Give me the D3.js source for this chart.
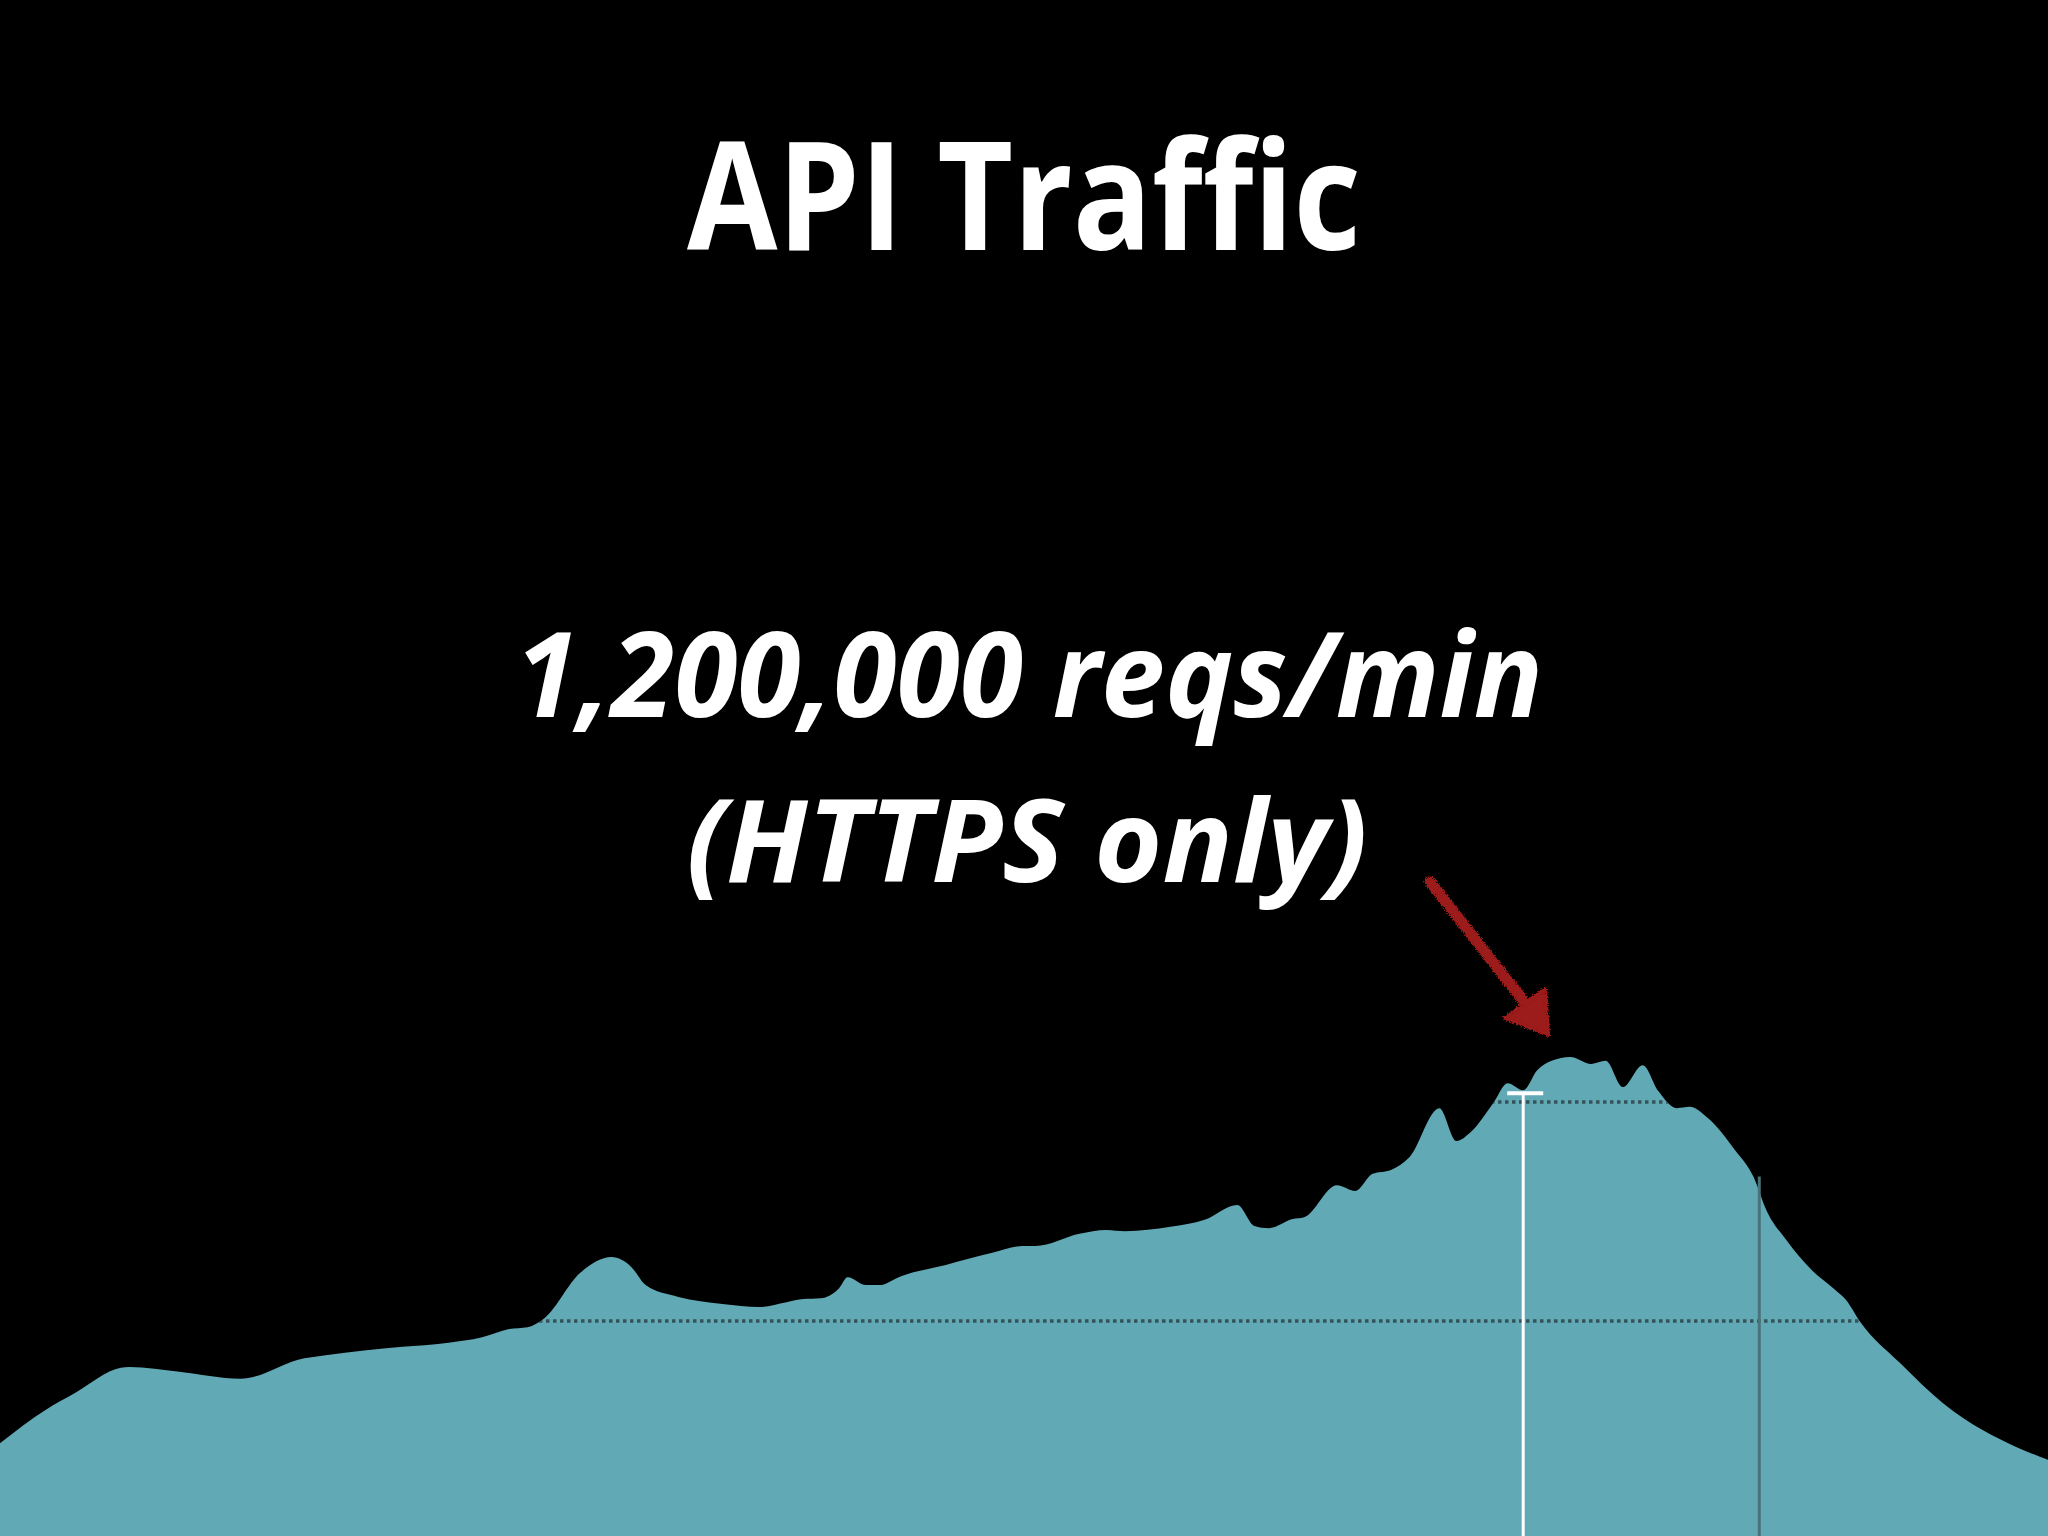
<!DOCTYPE html>
<html>
<head>
<meta charset="utf-8">
<script src="https://cdn.jsdelivr.net/npm/d3@7"></script>
<style>
  html, body { margin: 0; padding: 0; background: #000; }
  svg { display: block; }
</style>
</head>
<body>
<svg id="chart" width="2048" height="1536"></svg>
<script>
// minutes since midnight
const minutes = [
  0, 32, 53, 85, 91, 126, 169, 214, 229, 283, 314, 339, 358, 371, 383, 408, 430, 444, 454, 477,
  508, 534, 553, 565, 577, 590, 596, 609, 618, 634, 665, 697, 719, 728, 759, 778, 791, 823, 847, 870,
  882, 892, 909, 917, 940, 953, 965, 978, 991, 1012, 1024, 1034, 1050, 1060, 1071, 1081, 1091, 1104, 1119, 1129,
  1141, 1155, 1166, 1179, 1188, 1201, 1220, 1233, 1242, 1256, 1274, 1289, 1298, 1308, 1336, 1366, 1394, 1418, 1440
];
// requests per minute
const reqsPerMin = [
  221000, 297000, 336000, 393000, 395000, 384000, 368000, 415000, 422000, 441000, 450000, 463000, 482000, 486000, 507000, 610000, 646000, 623000, 582000, 555000,
  539000, 532000, 543000, 550000, 552000, 575000, 600000, 582000, 582000, 603000, 628000, 655000, 671000, 671000, 699000, 708000, 705000, 715000, 731000, 765000,
  717000, 712000, 733000, 737000, 810000, 797000, 836000, 845000, 874000, 986000, 911000, 931000, 998000, 1043000, 1027000, 1073000, 1094000, 1103000, 1087000, 1094000,
  1034000, 1084000, 1025000, 986000, 989000, 963000, 890000, 829000, 753000, 685000, 616000, 575000, 548000, 498000, 404000, 313000, 251000, 212000, 183000
];
const gridValues = [500000, 1000000];
const markerMinute = 1071, markerValue = 1020000;   // white "now" marker
const cutoffMinute = 1237, cutoffValue = 830000;    // grey divider

const titleText = "API Traffic";
const subLines = ["1,200,000 reqs/min", "(HTTPS only)"];

const W = 2048, H = 1536;
const svg = d3.select("#chart");
const data = minutes.map((m, i) => ({ m, v: reqsPerMin[i] }));

const x = d3.scaleLinear().domain([0, 1440]).range([0, W]);
const y = d3.scaleLinear().domain([0, 1000000]).range([1540, 1102]);

const area = d3.area()
  .x(d => x(d.m))
  .y0(H)
  .y1(d => y(d.v))
  .curve(d3.curveMonotoneX);

const defs = svg.append("defs");
defs.append("clipPath").attr("id", "areaClip")
  .append("path").attr("d", area(data));

// rough marker look for the arrow
const rough = defs.append("filter").attr("id", "rough")
  .attr("x", "-20%").attr("y", "-20%").attr("width", "140%").attr("height", "140%");
rough.append("feTurbulence").attr("type", "fractalNoise").attr("baseFrequency", 0.9)
  .attr("numOctaves", 2).attr("seed", 3).attr("result", "noise");
rough.append("feDisplacementMap").attr("in", "SourceGraphic").attr("in2", "noise")
  .attr("scale", 6).attr("xChannelSelector", "R").attr("yChannelSelector", "G");

svg.append("rect").attr("width", W).attr("height", H).attr("fill", "#000");

svg.append("path")
  .attr("d", area(data))
  .attr("fill", "#62a9b6");

// dotted grid lines, only visible inside the area
svg.append("g").attr("clip-path", "url(#areaClip)")
  .selectAll("line")
  .data(gridValues)
  .join("line")
  .attr("x1", 0).attr("x2", W)
  .attr("y1", d => y(d)).attr("y2", d => y(d))
  .attr("stroke", "#35535a")
  .attr("stroke-width", 3.5)
  .attr("stroke-dasharray", "3.5,3.5");

// grey divider
svg.append("line")
  .attr("x1", x(cutoffMinute)).attr("x2", x(cutoffMinute))
  .attr("y1", y(cutoffValue)).attr("y2", H)
  .attr("stroke", "#4a7279")
  .attr("stroke-width", 3);

// white marker
const mx = x(markerMinute), my = y(markerValue);
svg.append("line")
  .attr("x1", mx).attr("x2", mx).attr("y1", my).attr("y2", H)
  .attr("stroke", "#fff").attr("stroke-width", 3);
svg.append("line")
  .attr("x1", mx - 16).attr("x2", mx + 20).attr("y1", my).attr("y2", my)
  .attr("stroke", "#fff").attr("stroke-width", 4);

// red arrow pointing at the peak
const peak = data.reduce((a, b) => (b.v > a.v ? b : a));
const px = x(peak.m), py = y(peak.v);
const tip = [px - 22, py - 22];
const arrow = svg.append("g").attr("filter", "url(#rough)").attr("fill", "#9c1a1a").attr("stroke", "#9c1a1a");
arrow.append("line")
  .attr("x1", px - 140).attr("y1", py - 175)
  .attr("x2", tip[0] - 20).attr("y2", tip[1] - 28)
  .attr("stroke-width", 11).attr("stroke-linecap", "round");
arrow.append("path")
  .attr("d", `M${tip[0]},${tip[1]} L${tip[0] - 43},${tip[1] - 17} L${tip[0] - 3},${tip[1] - 46} Z`)
  .attr("stroke-width", 4).attr("stroke-linejoin", "round");

// text
svg.append("text")
  .attr("x", 1024).attr("y", 250)
  .attr("text-anchor", "middle")
  .attr("font-family", "'Open Sans', sans-serif")
  .attr("font-weight", 700)
  .attr("font-size", 151)
  .attr("fill", "#fff")
  .attr("textLength", 674)
  .attr("lengthAdjust", "spacingAndGlyphs")
  .text(titleText);

svg.selectAll("text.sub")
  .data(subLines)
  .join("text")
  .attr("class", "sub")
  .attr("x", (d, i) => (i === 0 ? 1029 : 1027))
  .attr("y", (d, i) => (i === 0 ? 717 : 882))
  .attr("text-anchor", "middle")
  .attr("font-family", "'Open Sans', sans-serif")
  .attr("font-weight", 700)
  .attr("font-style", "italic")
  .attr("font-size", (d, i) => (i === 0 ? 118 : 115))
  .attr("fill", "#fff")
  .attr("textLength", (d, i) => (i === 0 ? 1028 : 681))
  .attr("lengthAdjust", "spacingAndGlyphs")
  .text(d => d);
</script>
</body>
</html>
